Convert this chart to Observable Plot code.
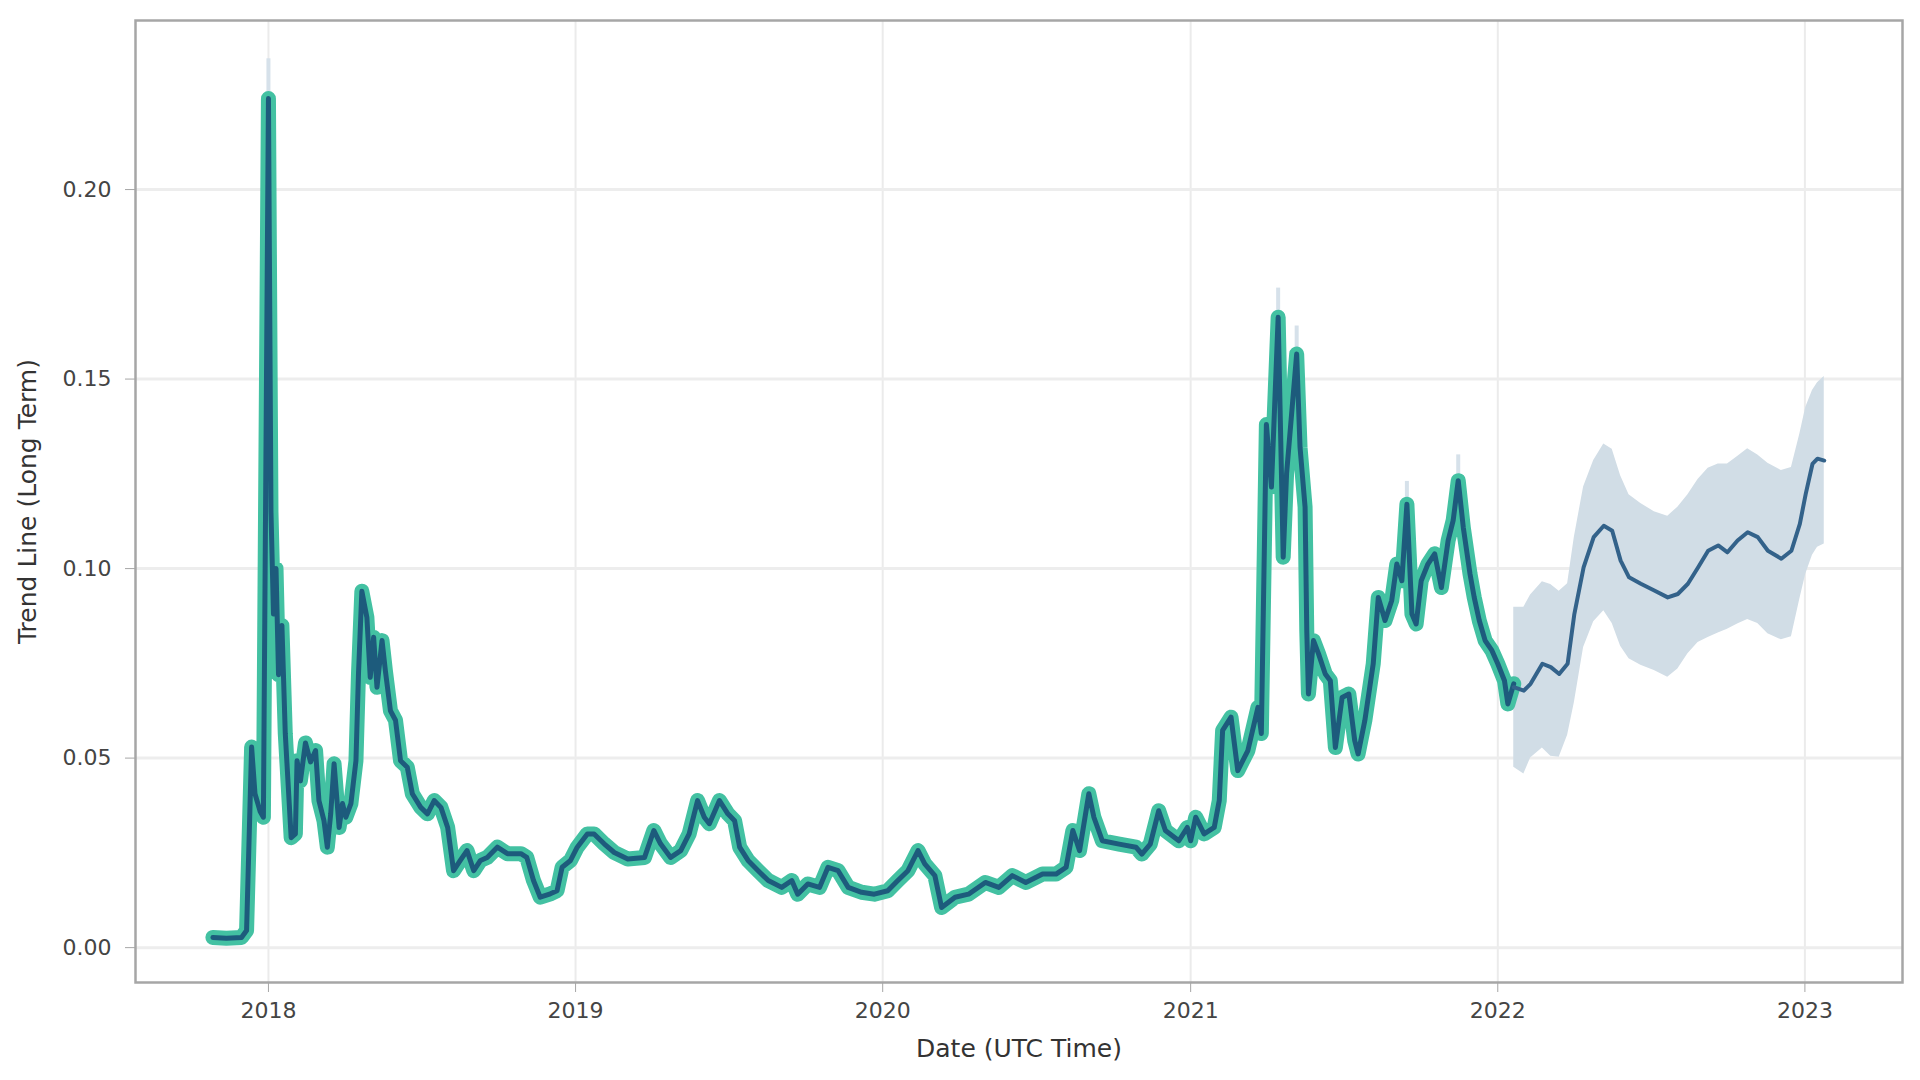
<!DOCTYPE html>
<html>
<head>
<meta charset="utf-8">
<script src="https://cdn.jsdelivr.net/npm/d3@7"></script>
<script src="https://cdn.jsdelivr.net/npm/@observablehq/plot@0.6"></script>
<style>
  html, body { margin: 0; padding: 0; background: #ffffff; }
  #chart { width: 1920px; height: 1080px; }
</style>
</head>
<body>
<div id="chart"></div>
<script>
// ---- Data ----
const actualDates = [
  "2017-10-27","2017-11-12","2017-11-30","2017-12-06","2017-12-12","2017-12-16","2017-12-22","2017-12-26",
  "2018-01-01","2018-01-04","2018-01-07","2018-01-10","2018-01-13","2018-01-17","2018-01-21","2018-01-28",
  "2018-02-02","2018-02-04","2018-02-08","2018-02-14","2018-02-20","2018-02-26","2018-03-02","2018-03-08",
  "2018-03-12","2018-03-16","2018-03-20","2018-03-26","2018-03-30","2018-04-03","2018-04-09","2018-04-15",
  "2018-04-18","2018-04-22","2018-04-28","2018-05-02","2018-05-06","2018-05-10","2018-05-16","2018-05-20",
  "2018-05-26","2018-06-01","2018-06-07","2018-06-15","2018-06-21","2018-07-01","2018-07-09","2018-07-17",
  "2018-07-25","2018-08-02","2018-08-09","2018-08-17","2018-08-25","2018-09-02","2018-09-10","2018-09-18",
  "2018-09-30","2018-10-12","2018-10-28","2018-11-04","2018-11-12","2018-11-20","2018-12-02","2018-12-10",
  "2018-12-16","2018-12-26","2019-01-03","2019-01-15","2019-01-23","2019-02-04","2019-02-16","2019-03-04",
  "2019-03-24","2019-04-04","2019-04-12","2019-04-24","2019-05-06","2019-05-16","2019-05-26","2019-06-03",
  "2019-06-09","2019-06-21","2019-07-01","2019-07-09","2019-07-15","2019-07-25","2019-08-06","2019-08-18",
  "2019-09-03","2019-09-15","2019-09-22","2019-10-04","2019-10-18","2019-10-28","2019-11-09","2019-11-21",
  "2019-12-07","2019-12-22","2020-01-07","2020-01-19","2020-01-31","2020-02-12","2020-02-20","2020-03-03",
  "2020-03-11","2020-03-27","2020-04-12","2020-05-02","2020-05-18","2020-06-03","2020-06-19","2020-07-09",
  "2020-07-25","2020-08-06","2020-08-14","2020-08-22","2020-09-02","2020-09-08","2020-09-18","2020-10-08",
  "2020-10-28","2020-11-04","2020-11-14","2020-11-24","2020-12-02","2020-12-18","2020-12-28","2021-01-01",
  "2021-01-07","2021-01-17","2021-01-29","2021-02-04","2021-02-08","2021-02-18","2021-02-26","2021-03-10",
  "2021-03-22","2021-03-26","2021-04-01","2021-04-07","2021-04-15","2021-04-21","2021-04-25","2021-05-07",
  "2021-05-11","2021-05-17","2021-05-19","2021-05-21","2021-05-27","2021-06-02","2021-06-10","2021-06-16",
  "2021-06-22","2021-06-30","2021-07-08","2021-07-15","2021-07-19","2021-07-27","2021-08-06","2021-08-12",
  "2021-08-20","2021-08-28","2021-09-03","2021-09-09","2021-09-15","2021-09-21","2021-09-26","2021-10-02",
  "2021-10-10","2021-10-18","2021-10-26","2021-11-03","2021-11-09","2021-11-15","2021-11-21","2021-11-29",
  "2021-12-04","2021-12-10","2021-12-17","2021-12-25","2022-01-01","2022-01-09","2022-01-13","2022-01-20"
];
const actualValues = [
  0.0027,0.0025,0.0027,0.0045,0.0529,0.0406,0.0360,0.0344,
  0.2240,0.1150,0.0880,0.1000,0.0720,0.0850,0.0565,0.0290,
  0.0300,0.0493,0.0440,0.0540,0.0490,0.0520,0.0388,0.0335,
  0.0265,0.0353,0.0485,0.0317,0.0380,0.0344,0.0380,0.0493,
  0.0722,0.0940,0.0871,0.0713,0.0819,0.0687,0.0810,0.0730,
  0.0625,0.0600,0.0493,0.0476,0.0406,0.0370,0.0353,0.0388,
  0.0370,0.0317,0.0203,0.0230,0.0256,0.0203,0.0230,0.0238,
  0.0265,0.0248,0.0248,0.0238,0.0177,0.0133,0.0142,0.0150,
  0.0212,0.0230,0.0265,0.0300,0.0300,0.0274,0.0251,0.0234,
  0.0238,0.0309,0.0274,0.0238,0.0256,0.0300,0.0388,0.0344,
  0.0327,0.0388,0.0353,0.0335,0.0265,0.0230,0.0203,0.0177,
  0.0159,0.0177,0.0141,0.0168,0.0159,0.0212,0.0203,0.0159,
  0.0146,0.0141,0.0150,0.0177,0.0203,0.0256,0.0221,0.0190,
  0.0106,0.0133,0.0141,0.0172,0.0159,0.0190,0.0172,0.0194,
  0.0194,0.0212,0.0309,0.0256,0.0406,0.0344,0.0282,0.0273,
  0.0265,0.0247,0.0273,0.0361,0.0309,0.0282,0.0317,0.0282,
  0.0344,0.0300,0.0317,0.0388,0.0573,0.0608,0.0467,0.0520,
  0.0634,0.0565,0.1380,0.1215,0.1663,0.1030,0.1250,0.1566,
  0.1320,0.1162,0.0836,0.0669,0.0810,0.0775,0.0722,0.0704,
  0.0528,0.0660,0.0669,0.0546,0.0511,0.0599,0.0749,0.0924,
  0.0863,0.0916,0.1012,0.0968,0.1170,0.0880,0.0854,0.0968,
  0.1012,0.1039,0.0950,0.1074,0.1127,0.1232,0.1109,0.0986,
  0.0924,0.0863,0.0810,0.0784,0.0749,0.0704,0.0643,0.0696
];

// uncertainty tips that show above the actual line at the main peaks
const peakDates = ["2018-01-01","2021-04-15","2021-05-07","2021-09-15","2021-11-15"];
const peakUpper = [0.2345, 0.1740, 0.1640, 0.1230, 0.1300];

const forecastDates = [
  "2022-01-20","2022-02-01","2022-02-09","2022-02-23","2022-03-05","2022-03-15","2022-03-25","2022-04-02",
  "2022-04-13","2022-04-25","2022-05-07","2022-05-17","2022-05-27","2022-06-06","2022-06-20","2022-07-06",
  "2022-07-22","2022-08-03","2022-08-15","2022-08-27","2022-09-08","2022-09-20","2022-10-01","2022-10-13",
  "2022-10-25","2022-11-06","2022-11-18","2022-12-04","2022-12-16","2022-12-26","2023-01-02","2023-01-10",
  "2023-01-16","2023-01-24"
];
const forecastValues = [
  0.0687,0.0678,0.0696,0.0749,0.0740,0.0722,0.0749,0.0880,
  0.1003,0.1083,0.1113,0.1100,0.1021,0.0977,0.0960,0.0942,
  0.0924,0.0933,0.0960,0.1003,0.1047,0.1061,0.1043,0.1074,
  0.1096,0.1083,0.1047,0.1026,0.1047,0.1118,0.1197,0.1276,
  0.1290,0.1285
];
const forecastUpper = [
  0.0898,0.0898,0.0930,0.0965,0.0958,0.0940,0.0960,0.1083,
  0.1215,0.1285,0.1329,0.1315,0.1245,0.1195,0.1172,0.1150,
  0.1138,0.1162,0.1195,0.1235,0.1265,0.1276,0.1276,0.1296,
  0.1316,0.1300,0.1278,0.1259,0.1267,0.1355,0.1425,0.1470,
  0.1490,0.1507
];
const forecastLower = [
  0.0476,0.0458,0.0500,0.0527,0.0505,0.0502,0.0560,0.0646,
  0.0792,0.0860,0.0889,0.0855,0.0795,0.0762,0.0745,0.0731,
  0.0713,0.0735,0.0775,0.0805,0.0818,0.0830,0.0840,0.0854,
  0.0866,0.0855,0.0828,0.0812,0.0820,0.0920,0.0985,0.1035,
  0.1056,0.1065
];

const yTicks = [0.00, 0.05, 0.10, 0.15, 0.20];
const xTickYears = ["2018-01-01","2019-01-01","2020-01-01","2021-01-01","2022-01-01","2023-01-01"];
const xDomain = ["2017-07-27","2023-04-27"];
const yDomain = [-0.0092, 0.2446];
const xLabel = "Date (UTC Time)";
const yLabel = "Trend Line (Long Term)";

// ---- Build tables ----
const parse = d3.utcParse("%Y-%m-%d");
const actual = actualDates.map((d, i) => ({date: parse(d), value: actualValues[i]}));
const actualByDate = new Map(actualDates.map((d, i) => [d, actualValues[i]]));
const peaks = peakDates.map((d, i) => ({date: parse(d), lo: actualByDate.get(d), hi: peakUpper[i]}));
const forecast = forecastDates.map((d, i) => ({
  date: parse(d), value: forecastValues[i], upper: forecastUpper[i], lower: forecastLower[i]
}));
const xTicks = xTickYears.map(parse);

const chart = Plot.plot({
  width: 1920,
  height: 1080,
  marginLeft: 135,
  marginRight: 18,
  marginTop: 20,
  marginBottom: 98,
  style: {fontFamily: "DejaVu Sans", fontSize: "22px", background: "#ffffff", color: "#444"},
  x: {type: "utc", domain: xDomain.map(parse)},
  y: {domain: yDomain},
  marks: [
    Plot.gridX(xTicks, {stroke: "#ebebeb", strokeOpacity: 1, strokeWidth: 2}),
    Plot.gridY(yTicks, {stroke: "#ededed", strokeOpacity: 1, strokeWidth: 3}),
    Plot.areaY(forecast, {x: "date", y1: "lower", y2: "upper", fill: "#d1dde6", fillOpacity: 1}),
    Plot.ruleX(peaks, {x: "date", y1: "lo", y2: "hi", stroke: "#d6e1ea", strokeWidth: 4}),
    Plot.line(actual, {x: "date", y: "value", stroke: "#43c1a2", strokeWidth: 15, strokeLinejoin: "round", strokeLinecap: "round"}),
    Plot.line(actual, {x: "date", y: "value", stroke: "#1d5b7c", strokeWidth: 5, strokeLinejoin: "round"}),
    Plot.line(forecast, {x: "date", y: "value", stroke: "#33628a", strokeWidth: 4, strokeLinejoin: "round"}),
    Plot.frame({stroke: "#a6a6a6", strokeWidth: 2.5}),
    Plot.axisX(xTicks, {tickFormat: d3.utcFormat("%Y"), tickSize: 10, tickPadding: 10, stroke: "#a6a6a6", fill: "#444", label: null, fontSize: 22}),
    Plot.axisY(yTicks, {tickFormat: d3.format(".2f"), tickSize: 10, tickPadding: 14, stroke: "#a6a6a6", fill: "#444", label: null, fontSize: 22}),
    Plot.text([xLabel], {frameAnchor: "bottom", dy: 74, fontSize: 25, fill: "#333", textAnchor: "middle"}),
    Plot.text([yLabel], {frameAnchor: "left", rotate: -90, dx: -108, fontSize: 25, fill: "#333", textAnchor: "middle"})
  ]
});
document.getElementById("chart").appendChild(chart);
</script>
</body>
</html>
